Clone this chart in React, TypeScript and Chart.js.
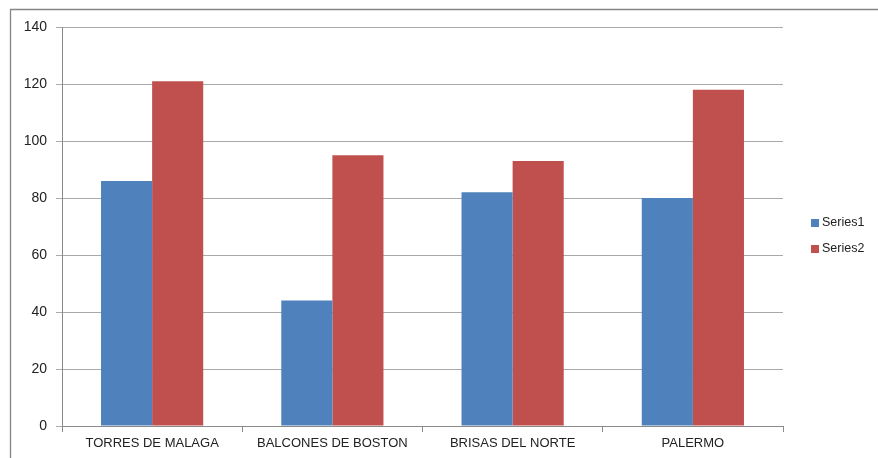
import React, { useEffect, useRef } from "react";
import { Chart, registerables } from "chart.js";

Chart.register(...registerables);

const categories = ["TORRES DE MALAGA", "BALCONES DE BOSTON", "BRISAS DEL NORTE", "PALERMO"];
const series1 = [86, 44, 82, 80];
const series2 = [121, 95, 93, 118];
const seriesNames = ["Series1", "Series2"];
const seriesColors = ["#4F81BD", "#C0504D"];
const yTicks = [0, 20, 40, 60, 80, 100, 120, 140];

const FONT = "'Liberation Sans', Arial, sans-serif";

const framePlugin = {
  id: "frame",
  beforeDraw(chart: any) {
    const ctx = chart.ctx;
    ctx.save();
    ctx.fillStyle = "#ffffff";
    ctx.fillRect(0, 0, chart.width, chart.height);
    ctx.strokeStyle = "#858585";
    ctx.lineWidth = 1.3;
    ctx.beginPath();
    ctx.moveTo(10.5, chart.height);
    ctx.lineTo(10.5, 9.5);
    ctx.lineTo(chart.width, 9.5);
    ctx.stroke();
    ctx.restore();
  },
  afterDraw(chart: any) {
    const ctx = chart.ctx;
    ctx.save();
    ctx.font = "12.5px " + FONT;
    ctx.textBaseline = "middle";
    ctx.textAlign = "left";
    chart.data.datasets.forEach((ds: any, i: number) => {
      const cy = 223 + i * 26;
      ctx.fillStyle = ds.backgroundColor;
      ctx.fillRect(811, cy - 4, 8, 8);
      ctx.fillStyle = "#222222";
      ctx.fillText(ds.label, 822, cy);
    });
    ctx.restore();
  },
};

export default function App() {
  const ref = useRef<HTMLCanvasElement>(null);
  useEffect(() => {
    const canvas = ref.current!;
    const chart = new Chart(canvas, {
      type: "bar",
      data: {
        labels: categories,
        datasets: [
          { label: seriesNames[0], data: series1, backgroundColor: seriesColors[0] },
          { label: seriesNames[1], data: series2, backgroundColor: seriesColors[1] },
        ],
      },
      options: {
        responsive: false,
        animation: false,
        layout: { padding: { left: 0, top: 27, right: 95, bottom: 0 } },
        datasets: {
          bar: { categoryPercentage: 0.567, barPercentage: 1.0 },
        },
        plugins: {
          legend: { display: false },
          tooltip: { enabled: false },
        },
        scales: {
          x: {
            afterFit: (s: any) => {
              s.height = 32;
            },
            grid: {
              offset: true,
              drawOnChartArea: false,
              drawTicks: true,
              tickLength: 6,
              color: "#8a8a8a",
            },
            border: { color: "#8a8a8a", width: 1 },
            ticks: {
              color: "#222222",
              font: { family: FONT, size: 13 },
              padding: 4,
              maxRotation: 0,
              autoSkip: false,
            },
          },
          y: {
            min: 0,
            max: 140,
            afterFit: (s: any) => {
              s.width = 62;
            },
            afterBuildTicks: (s: any) => {
              s.ticks = yTicks.map((v) => ({ value: v }));
            },
            grid: {
              color: "#a9a9a9",
              tickLength: 6,
              drawTicks: true,
            },
            border: { color: "#8a8a8a", width: 1 },
            ticks: {
              color: "#222222",
              font: { family: FONT, size: 14 },
              padding: 9,
            },
          },
        },
      },
      plugins: [framePlugin],
    });
    return () => chart.destroy();
  }, []);
  return (
    <div style={{ position: "fixed", left: 0, top: 0, width: 878, height: 458, overflow: "hidden" }}>
      <canvas ref={ref} width={878} height={458} style={{ display: "block" }} />
    </div>
  );
}
